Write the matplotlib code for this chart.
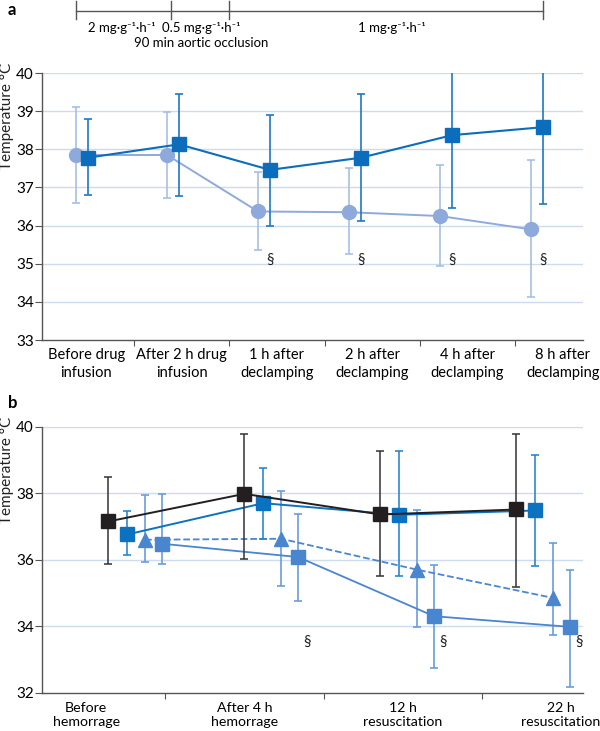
import numpy as np
import matplotlib
matplotlib.use("Agg")
import matplotlib.pyplot as plt
import matplotlib.transforms as mtransforms

plt.rcParams['font.family'] = ['Lato', 'DejaVu Sans']

# ---- panel a data ----
a_labels = ["Before drug\ninfusion", "After 2 h drug\ninfusion", "1 h after\ndeclamping",
            "2 h after\ndeclamping", "4 h after\ndeclamping", "8 h after\ndeclamping"]
a_circle_mean = [37.85, 37.85, 36.37, 36.35, 36.25, 35.90]
a_circle_high = [39.10, 38.97, 37.40, 37.50, 37.60, 37.72]
a_circle_low = [36.60, 36.73, 35.36, 35.25, 34.93, 34.12]
a_square_mean = [37.78, 38.13, 37.46, 37.78, 38.37, 38.58]
a_square_high = [38.80, 39.45, 38.90, 39.45, 40.25, 40.58]
a_square_low = [36.79, 36.78, 36.00, 36.13, 36.45, 36.56]
a_sig = [False, False, True, True, True, True]

# ---- panel b data ----
b_labels = ["Before\nhemorrage", "After 4 h\nhemorrage", "12 h\nresuscitation", "22 h\nresuscitation"]
b_black_mean = [37.15, 37.98, 37.36, 37.51]
b_black_high = [38.48, 39.78, 39.28, 39.78]
b_black_low = [35.88, 36.03, 35.50, 35.18]
b_blue_mean = [36.76, 37.70, 37.35, 37.48]
b_blue_high = [37.46, 38.76, 39.28, 39.15]
b_blue_low = [36.13, 36.63, 35.50, 35.80]
b_tri_mean = [36.60, 36.63, 35.70, 34.85]
b_tri_high = [37.95, 38.06, 37.50, 36.50]
b_tri_low = [35.93, 35.20, 33.98, 33.75]
b_lsq_mean = [36.48, 36.08, 34.30, 33.98]
b_lsq_high = [37.98, 37.36, 35.83, 35.70]
b_lsq_low = [35.86, 34.75, 32.75, 32.18]
b_sig = [False, True, True, True]

SPINE = '#555555'
GRID = '#cddbef'


def err(mean, low, high):
    mean = np.array(mean)
    return [mean - np.array(low), np.array(high) - mean]


def style_axes(ax, ylim, yticks, cat_start, cat_width, ncat, labels, pad, lsp):
    ax.set_ylim(*ylim)
    ax.set_yticks(yticks)
    for y in yticks[1:]:
        ax.axhline(y, color=GRID, lw=1, zorder=0)
    for s in ['top', 'right']:
        ax.spines[s].set_visible(False)
    for s in ['left', 'bottom']:
        ax.spines[s].set_color(SPINE)
        ax.spines[s].set_linewidth(1)
    bounds = [cat_start + k * cat_width for k in range(1, ncat)]
    centers = [cat_start + (k + 0.5) * cat_width for k in range(ncat)]
    ax.set_xticks(bounds)
    ax.set_xticklabels([])
    ax.set_xticks(centers, minor=True)
    ax.set_xticklabels(labels, minor=True, fontsize=10.5, linespacing=lsp)
    ax.tick_params(axis='x', which='major', direction='out', length=4, color=SPINE)
    ax.tick_params(axis='x', which='minor', length=0, pad=pad)
    ax.tick_params(axis='y', direction='out', length=5, color=SPINE, labelsize=11, pad=1)


fig = plt.figure(figsize=(6, 7.31), dpi=100)

# ---------------- panel a ----------------
ax_a = fig.add_axes([42 / 600, 1 - 340 / 731, 541 / 600, 267 / 731])
xa = np.arange(6)
off_a = 0.132
ax_a.set_xlim(-0.3736, 5.571)
style_axes(ax_a, (33, 40), list(range(33, 41)), -0.409, 1.0467, 6, a_labels, 6, 1.3)

c_light = '#8eaadc'
c_dark = '#0b6dbb'
ax_a.errorbar(xa, a_circle_mean, yerr=err(a_circle_mean, a_circle_low, a_circle_high),
              color=c_light, ecolor='#a7bfe6', elinewidth=1.2, capsize=3, capthick=1.2,
              lw=1.4, marker='o', ms=10, mec=c_light, zorder=3)
ax_a.errorbar(xa + off_a, a_square_mean, yerr=err(a_square_mean, a_square_low, a_square_high),
              color=c_dark, ecolor='#1d79c4', elinewidth=1.2, capsize=3, capthick=1.2,
              lw=1.5, marker='s', ms=10, mec=c_dark, zorder=4)
for i, s in enumerate(a_sig):
    if s:
        ax_a.text(xa[i] + off_a, 35.1, '§', ha='center', va='center', fontsize=11, color='#222222')

ax_a.text(-0.064, 1.037, 'Temperature °C', transform=ax_a.transAxes, rotation=90,
          ha='center', va='top', fontsize=11, color='#222222')

# infusion bracket above panel a
tr = mtransforms.blended_transform_factory(ax_a.transData, fig.transFigure)
yl = 1 - 11 / 731
y0, y1 = 1 - 1 / 731, 1 - 19 / 731
ax_a.plot([0, 5 + off_a], [yl, yl], color=SPINE, lw=1, transform=tr, clip_on=False)
for xt in [0, 1.044, 1.678, 5 + off_a]:
    ax_a.plot([xt, xt], [y0, y1], color=SPINE, lw=1, transform=tr, clip_on=False)
ty = 1 - 28 / 731
ax_a.text(0.505, ty, '2 mg·g⁻¹·h⁻¹', transform=tr, ha='center', va='center', fontsize=9.5)
ax_a.text(1.374, ty, '0.5 mg·g⁻¹·h⁻¹', transform=tr, ha='center', va='center', fontsize=9.5)
ax_a.text(1.374, 1 - 43 / 731, '90 min aortic occlusion', transform=tr, ha='center',
          va='center', fontsize=9.5)
ax_a.text(3.47, ty, '1 mg·g⁻¹·h⁻¹', transform=tr, ha='center', va='center', fontsize=9.5)

fig.text(8 / 600, 1 - 10 / 731, 'a', fontsize=12, fontweight='bold', ha='left', va='center')

# ---------------- panel b ----------------
ax_b = fig.add_axes([42 / 600, 1 - 692.7 / 731, 541 / 600, 266 / 731])
xb = np.arange(4)
ax_b.set_xlim(-0.4875, 3.49)
style_axes(ax_b, (32, 40), [32, 34, 36, 38, 40], -0.745, 1.164, 4, b_labels, 7, 1.15)
for lab in ax_b.get_xticklabels(minor=True):
    lab.set_fontsize(10.2)

c_black = '#231f20'
c_blue = '#0b72c1'
c_mid = '#4a85cf'
ax_b.errorbar(xb + 0.395, b_lsq_mean, yerr=err(b_lsq_mean, b_lsq_low, b_lsq_high),
              color=c_mid, ecolor='#6a9ddb', elinewidth=1.2, capsize=3, capthick=1.2,
              lw=1.3, marker='s', ms=10, mec=c_mid, zorder=3)
ax_b.errorbar(xb + 0.27, b_tri_mean, yerr=err(b_tri_mean, b_tri_low, b_tri_high),
              color=c_mid, ecolor='#6a9ddb', elinewidth=1.2, capsize=3, capthick=1.2,
              lw=1.3, ls='--', marker='^', ms=10, mec=c_mid, zorder=3)
ax_b.errorbar(xb + 0.14, b_blue_mean, yerr=err(b_blue_mean, b_blue_low, b_blue_high),
              color=c_blue, ecolor='#2d86cf', elinewidth=1.2, capsize=3, capthick=1.2,
              lw=1.4, marker='s', ms=10, mec=c_blue, zorder=4)
ax_b.errorbar(xb, b_black_mean, yerr=err(b_black_mean, b_black_low, b_black_high),
              color=c_black, ecolor='#333333', elinewidth=1.1, capsize=3, capthick=1.1,
              lw=1.4, marker='s', ms=10, mec=c_black, zorder=5)
for i, s in enumerate(b_sig):
    if s:
        ax_b.text(xb[i] + 0.46, 33.53, '§', ha='center', va='center', fontsize=11, color='#222222')

ax_b.text(-0.064, 1.037, 'Temperature °C', transform=ax_b.transAxes, rotation=90,
          ha='center', va='top', fontsize=11, color='#222222')
fig.text(8 / 600, 1 - 403 / 731, 'b', fontsize=12, fontweight='bold', ha='left', va='center')

fig.savefig('out.png', dpi=100)
